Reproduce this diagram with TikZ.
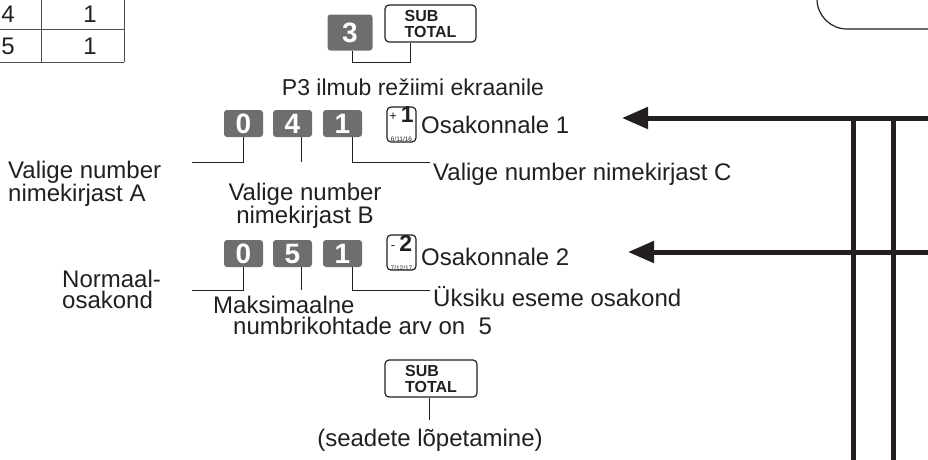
\documentclass[tikz,border=0pt]{standalone}
\usepackage{fontspec}
\setmainfont{Liberation Sans}
\usetikzlibrary{arrows.meta}
\definecolor{keygray}{HTML}{6D6E70}
\definecolor{ink}{HTML}{231F20}
\begin{document}
\begin{tikzpicture}[x=1pt, y=-1pt, font=\fontsize{24}{21}\selectfont,
    every node/.style={inner sep=0pt, text=ink},
    numkey/.style={fill=keygray, rounded corners=3pt, minimum width=39pt, minimum height=27pt,
      text=white, font=\fontsize{28}{28}\selectfont\bfseries},
    fnkey/.style={draw=ink, line width=1.2pt, rounded corners=4pt, align=center},
    thin/.style={draw=ink, line width=0.9pt},
    bar/.style={draw=ink, line width=5pt}]
    \useasboundingbox (0,0) rectangle (928,459);
    % table corner
    \draw[ink!80, line width=0.9pt] (0,29) -- (124,29) (0,62) -- (124,62) (41,0) -- (41,62) (124,0) -- (124,62);
    \node (t4) at (8,14) {4};
    \node (t4n) at (90,14) {1};
    \node (t5) at (8,46) {5};
    \node (t5n) at (90,46) {1};
    % step 1
    \node[numkey, minimum width=45pt, minimum height=36pt] (k3) at (350,32.5) {3};
    \node[fnkey, minimum width=91pt, minimum height=37pt, align=left,
      font=\fontsize{16}{16}\selectfont\bfseries] (st1) at (430.5,23.5) {SUB\\TOTAL};
    \draw[thin] ([xshift=2pt]k3.south) -- ++(0,11.5) -| ([xshift=-20.5pt]st1.south);
    \node[font=\fontsize{23}{21}\selectfont] (p3) at (413,87) {P3 ilmub režiimi ekraanile};
    % department 1
    \node[numkey] (a0) at (243.5,123.5) {0};
    \node[numkey] (a4) at (292.5,123.5) {4};
    \node[numkey] (a1) at (342.5,123.5) {1};
    \node[fnkey, minimum width=29pt, minimum height=27pt] (d1) at (401.5,124.5)
      {\raisebox{2pt}{\fontsize{13}{13}\selectfont +}\,{\fontsize{23}{17}\selectfont\bfseries 1}\\[-2pt]{\fontsize{6.5}{6.5}\selectfont 6/11/16}};
    \node[anchor=west] (o1) at (421,125) {Osakonnale 1};
    \node[anchor=west, align=left] (la) at (8,184) {Valige number\\nimekirjast A};
    \node[align=center] (lb) at (305,206) {Valige number\\nimekirjast B};
    \node[anchor=west] (lc) at (433,174) {Valige number nimekirjast C};
    \coordinate (a0e) at (192,162);
    \coordinate (a4e) at (301,162);
    \coordinate (a1e) at (430,162);
    \draw[thin] (a0.south) |- (a0e);
    \draw[thin] ([xshift=8.5pt]a4.south) -- (a4e);
    \draw[thin] ([xshift=9.5pt]a1.south) |- (a1e);
    % department 2
    \node[numkey] (b0) at (243.5,253.5) {0};
    \node[numkey] (b5) at (292.5,253.5) {5};
    \node[numkey] (b1) at (342.5,253.5) {1};
    \node[fnkey, minimum width=29pt, minimum height=27pt] (d2) at (401.5,252.5)
      {\raisebox{2pt}{\fontsize{13}{13}\selectfont -}\,{\fontsize{23}{17}\selectfont\bfseries 2}\\[-2pt]{\fontsize{6.5}{6.5}\selectfont 7/12/17}};
    \node[anchor=west] (o2) at (421,257) {Osakonnale 2};
    \node[anchor=west, align=left] (ln) at (62,289.5) {Normaal-\\osakond};
    \node[anchor=north west, align=left] (mx) at (213,296)
      {Maksimaalne\\\hspace*{20pt}numbrikohtade arv on\ \ 5};
    \node[anchor=west] (lu) at (433,297) {Üksiku eseme osakond};
    \coordinate (b0e) at (192,290);
    \coordinate (b5e) at (301,290);
    \coordinate (b1e) at (430,290);
    \draw[thin] (b0.south) |- (b0e);
    \draw[thin] ([xshift=8.5pt]b5.south) -- (b5e);
    \draw[thin] ([xshift=9.5pt]b1.south) |- (b1e);
    % finish
    \node[fnkey, minimum width=92pt, minimum height=37pt, align=left,
      font=\fontsize{16}{16}\selectfont\bfseries] (st2) at (431,378.5) {SUB\\TOTAL};
    \coordinate (ende) at (429,420);
    \draw[thin] ([xshift=-2pt]st2.south) -- (ende);
    \node (fin) at (430,440) {(seadete lõpetamine)};
    % right side
    \draw[ink, line width=1.2pt, rounded corners=30pt] (817,-10) -- (817,29) -- (940,29);
    \coordinate (r1) at (935,118);
    \coordinate (h1) at (622,118);
    \coordinate (r2) at (935,252);
    \coordinate (h2) at (628,252);
    \coordinate (v1t) at (853,116);
    \coordinate (v1b) at (853,465);
    \coordinate (v2t) at (893,116);
    \coordinate (v2b) at (893,465);
    \draw[bar] (v1t) -- (v1b);
    \draw[bar] (v2t) -- (v2b);
    \draw[bar, -{Triangle[length=26pt,width=21pt]}] (r1) -- (h1);
    \draw[bar, -{Triangle[length=26pt,width=21pt]}] (r2) -- (h2);
\end{tikzpicture}
\end{document}
